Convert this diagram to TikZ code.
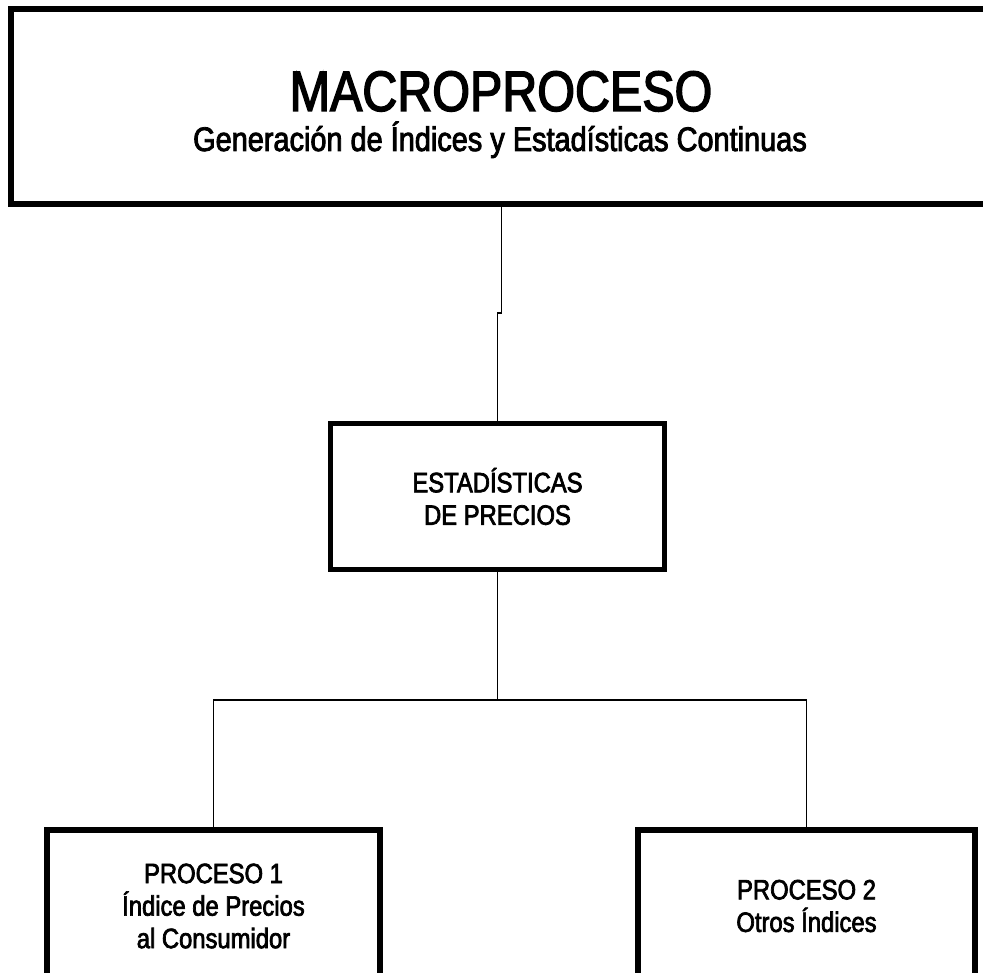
\documentclass[tikz,border=0pt]{standalone}
\usepackage{fontspec}
\setmainfont{Liberation Sans}[FakeStretch=0.85, FakeBold=2.5]
\begin{document}
\begin{tikzpicture}[x=1pt,y=-1pt,
  box/.style={draw, line width=5.5pt, rectangle, inner sep=0pt, align=center,
              font=\fontsize{28}{32.5}\selectfont},
  conn/.style={line width=1.8pt, line join=miter}]
\useasboundingbox (0,0) rectangle (983,973);
\clip (0,0) rectangle (983,973);
% top box
\node[draw, line width=6pt, minimum width=978pt, minimum height=195pt, inner sep=0pt] (macro) at (500,106.5) {};
\node[anchor=base, font=\fontsize{57}{57}\selectfont, inner sep=0pt] (title) at (501,111) {MACROPROCESO};
\node[anchor=base, font=\fontsize{34}{34}\selectfont, inner sep=0pt] (subtitle) at (500,151) {Generación de Índices y Estadísticas Continuas};
% middle box
\node[box, minimum width=334pt, minimum height=146pt] (estad) at (497.5,496.5) {ESTADÍSTICAS\\DE PRECIOS};
% bottom boxes
\node[box, minimum width=333pt, minimum height=152pt] (p1) at (213.5,906) {PROCESO 1\\Índice de Precios\\al Consumidor};
\node[box, minimum width=337pt, minimum height=152pt] (p2) at (806.5,906) {PROCESO 2\\Otros Índices};
% connectors
\coordinate (j1) at (501.5,313);
\coordinate (j2) at (497.5,313);
\draw[conn] (macro.south -| j1) -- (j1) -- (j2) -- (estad.north);
\coordinate (bus) at (497.5,700);
\draw[conn] (estad.south) -- (bus);
\draw[conn] (p1.north) |- (bus) -| (p2.north);
\end{tikzpicture}
\end{document}
